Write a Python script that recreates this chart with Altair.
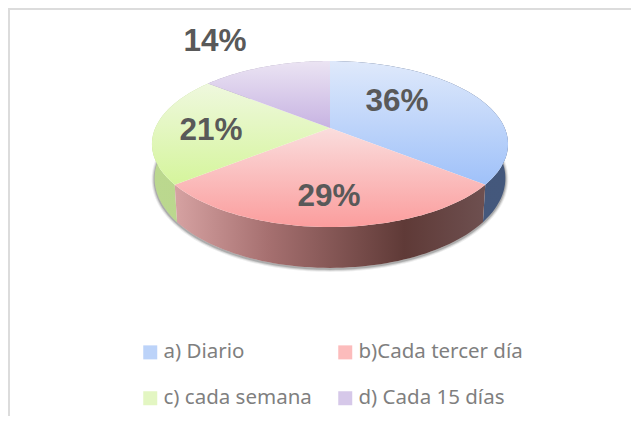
import math
import altair as alt
import pandas as pd

categories = ["a) Diario", "b)Cada tercer día", "c) cada semana", "d) Cada 15 días"]
counts = [5, 4, 3, 2]
legend_order = ["a) Diario", "c) cada semana", "b)Cada tercer día", "d) Cada 15 días"]
legend_colors = ["#bcd3f9", "#e3f6c2", "#fcbcbc", "#d6c8e9"]

TOP_STOPS = [
    ("#dfe9fb", "#9fc1f9"),
    ("#fadddd", "#fb9d9d"),
    ("#eff8de", "#d5f59c"),
    ("#ebe4f3", "#c7b3e2"),
]
SIDE_STOPS = [
    [(0, "#44567a"), (1, "#44587c")],
    [(0, "#d6a2a2"), (0.3, "#a67070"), (0.74, "#5f3a37"), (1, "#6e5050")],
    [(0, "#bbd88f"), (1, "#bad78c")],
    [(0, "#a59bb5"), (1, "#a59bb5")],
]
# pixel layout of the perspective view, in chart coordinates
CX, CY = 322, 120
A, B, P = 174.7, 79.9, 0.193
DEPTH, SHRINK = 33, 0.985
LABEL_XY = [(389, 92), (321, 187), (203, 121), (207, 32)]


def top(t):
    u, v = math.sin(t), math.cos(t)
    w = 1 + P * v
    return [CX + A * u / w, CY - B * v / w]


def bottom(t):
    u, v = math.sin(t), math.cos(t)
    w = 1 + P * v
    return [CX + SHRINK * A * u / w, CY - B * v / w + DEPTH / w]


def feature(coords, kind="Polygon"):
    geom = coords if kind == "LineString" else [coords]
    return {"type": "Feature", "properties": {}, "geometry": {"type": kind, "coordinates": geom}}


linear_v = dict(x1=0, x2=0, y1=0, y2=1)
linear_h = dict(x1=0, x2=1, y1=0, y2=0)


def gradient(stops, direction):
    return alt.Gradient(
        gradient="linear",
        stops=[alt.GradientStop(offset=o, color=c) for o, c in stops],
        **direction,
    )


def shape(feat, **mark):
    return alt.Chart(alt.Data(values=[feat])).mark_geoshape(**mark).project(
        type="identity", scale=1, translate=[0, 0])


total = sum(counts)
edges = [0.0]
for s in counts:
    edges.append(edges[-1] + s / total * 2 * math.pi)

N = 60
layers = []

# border of the picture
frame = pd.DataFrame({"k": [0]})
layers.append(alt.Chart(frame).mark_rule(color="#dcdcdc", strokeWidth=2).encode(
    x=alt.value(1), y=alt.value(0), y2=alt.value(408)))
layers.append(alt.Chart(frame).mark_rule(color="#dcdcdc", strokeWidth=2).encode(
    y=alt.value(1), x=alt.value(0), x2=alt.value(623)))

# soft shadow under the lower rim
rim = [bottom(math.pi / 2 + math.pi * i / 120) for i in range(121)]
rim = [[x, y + 1] for x, y in rim]
for width, op in [(6, 0.10), (4, 0.18), (2, 0.30)]:
    layers.append(shape(feature(rim, "LineString"), fill="transparent", stroke="#555555",
                        strokeWidth=width, strokeOpacity=op))

# side walls
for i in [3, 0, 2, 1]:
    a, b = edges[i], edges[i + 1]
    ts = [a + (b - a) * j / N for j in range(N + 1)]
    ring = [top(t) for t in ts] + [bottom(t) for t in reversed(ts)]
    ring.append(ring[0])
    layers.append(shape(feature(ring), fill=gradient(SIDE_STOPS[i], linear_h)))

# top faces
apex = [CX, CY]
for i in range(4):
    a, b = edges[i], edges[i + 1]
    ring = [apex] + [top(a + (b - a) * j / N) for j in range(N + 1)] + [apex]
    c0, c1 = TOP_STOPS[i]
    layers.append(shape(feature(ring), fill=gradient([(0, c0), (1, c1)], linear_v)))

# percentage labels
for i in range(4):
    row = pd.DataFrame({"label": [f"{round(counts[i] / total * 100)}%"]})
    x, y = LABEL_XY[i]
    layers.append(alt.Chart(row).mark_text(
        font="Liberation Sans", fontWeight="bold", fontSize=31.5, color="#595959",
        align="center", baseline="alphabetic").encode(
        text="label:N", x=alt.value(x), y=alt.value(y + 11)))

# legend carrier
legend_df = pd.DataFrame({"cat": categories})
layers.append(alt.Chart(legend_df).mark_point(filled=True, size=0, opacity=0).encode(
    x=alt.value(-20), y=alt.value(-20),
    color=alt.Color(
        "cat:N",
        sort=legend_order,
        scale=alt.Scale(domain=legend_order, range=legend_colors),
        legend=alt.Legend(
            title=None, orient="none", legendX=132, legendY=334, columns=2,
            symbolType="square", symbolSize=196, symbolOpacity=1, symbolStrokeWidth=0,
            labelFont="Noto Sans", labelFontSize=20.5, labelColor="#7f7f7f",
            labelOffset=3, labelLimit=300, columnPadding=23, rowPadding=25,
            padding=0, symbolOffset=0,
        ),
    ),
))

chart = alt.layer(*layers).properties(
    width=623, height=408, padding=0, autosize="none",
    background="white", view=alt.ViewConfig(stroke=None),
)
chart.save("out.html", embed_options={"renderer": "svg", "actions": False})
